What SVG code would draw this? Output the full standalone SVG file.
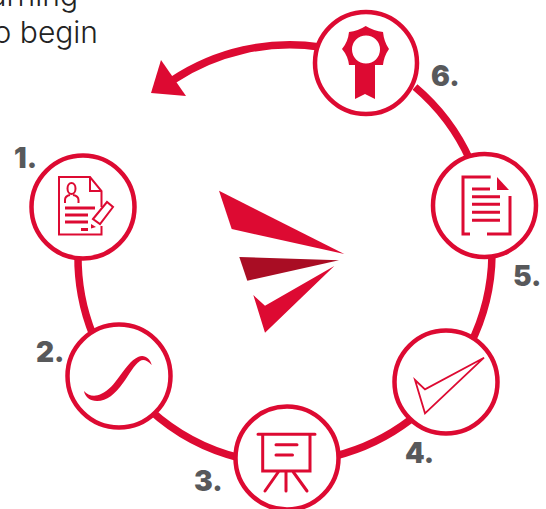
<svg xmlns="http://www.w3.org/2000/svg" width="546" height="509" viewBox="0 0 546 509">
<style>
.ring{fill:#fff;stroke:#dd0a32;stroke-width:4.5}
.ln{fill:none;stroke:#dd0a32;stroke-width:3}
.th{stroke-width:2}
.fl{fill:#dd0a32}
.num{font-family:"Inter","Liberation Sans",sans-serif;font-weight:900;font-size:28px;fill:#58595b}
.body{font-family:"Inter","Liberation Sans",sans-serif;font-weight:300;font-size:30px;fill:#222}
</style>
<rect width="546" height="509" fill="#fff"/>
<text class="body" x="78" y="6" text-anchor="end">arning</text>
<text class="body" x="98" y="43" text-anchor="end">o begin</text>
<g id="connectors" fill="none" stroke="#dd0a32" stroke-width="7.500">
<path d="M78,255A207,207 0 0 0 93,335"/>
<path d="M150,410A207,207 0 0 0 240,458"/>
<path d="M335,456A207,207 0 0 0 410,420"/>
<path d="M470,345A207,207 0 0 0 492,255"/>
<path d="M470,160A207,207 0 0 0 415,87"/>
<path d="M320,47A212,212 0 0 0 173,80"/>
<polygon points="161,60 151,93 186,96" fill="#dd0a32" stroke="none"/>
</g>
<g id="center">
<polygon class="fl" points="219,190.700 344.300,254 231.700,229"/>
<polygon points="239.300,257 339,260.300 247.300,280.700" fill="#a90d24"/>
<polygon class="fl" points="334.300,266 265,305.700 253.300,295 265,332.700"/>
</g>
<g id="node-1">
<circle class="ring" cx="83" cy="207" r="51.500"/>
<path class="ln th" d="M101.500,207V191L90,177H59V234.500H101.500V226"/>
<path class="ln th" d="M90,177V191H101.500"/>
<ellipse class="ln th" cx="71.500" cy="188.500" rx="4" ry="5.500"/>
<path class="ln th" d="M65,203V200Q65,196 70,195M78.500,203V200Q78.500,196 73,195"/>
<path class="ln" d="M65,208H95M65,215H88M65,222H88M81,229.500H88"/>
<polygon class="ln th" points="93,219 107,202 113,207 100,224"/>
<polygon class="fl" points="91,224 91,228.500 96,227"/>
</g>
<g id="node-2">
<circle class="ring" cx="119" cy="376" r="51.500"/>
<path class="fl" d="M84,391C88,396 95,397 101,394C109,390 114,384 119,377C125,369 131,360 138,357C144,354 150,358 151.700,365C147,360 143,359 140,361C134,365 129,375 123,383C115,394 107,401 97,401C90,401 85,397 84,391Z"/>
</g>
<g id="node-3">
<circle class="ring" cx="287" cy="458" r="51.500"/>
<path class="ln" style="stroke-linecap:round" d="M258,434.300H315M276,444.700H297M276,455H292.500M278.300,472L265,491M286,472V491M293.300,472L307,491"/>
<path class="ln" d="M262.700,434.300V471H310V434.300"/>
</g>
<g id="node-4">
<circle class="ring" cx="446" cy="382" r="51.500"/>
<polygon class="ln" style="stroke-width:1.800" points="415,380 425,389.300 484,357.700 425,413.300"/>
</g>
<g id="node-5">
<circle class="ring" cx="484.500" cy="205.500" r="51.500"/>
<path class="ln" d="M490.700,177H463V234H470M487,234H510V196"/>
<polygon class="fl" points="497,177 509,190 497,190"/>
<path class="ln" d="M472,189H490M472,196.700H500M472,204.300H500M472,212.300H500M472,220.300H500"/>
</g>
<g id="node-6">
<circle class="ring" cx="366" cy="63" r="51"/>
<path class="fl" fill-rule="evenodd" d="M365.700,26Q374,31 383,32Q384,42 389,49Q384,56 383,65L375,65V99L365,94L355,99V65H349Q348,56 342,49Q348,42 349,32Q358,31 365.700,26ZM380,49.500A14,14 0 1 0 352,49.500A14,14 0 1 0 380,49.500Z"/>
</g>
<g id="labels">
<text class="num" x="14" y="168">1.</text>
<text class="num" x="36" y="362">2.</text>
<text class="num" x="194" y="491">3.</text>
<text class="num" x="405" y="463">4.</text>
<text class="num" x="513" y="286">5.</text>
<text class="num" x="431" y="86">6.</text>
</g>
</svg>
